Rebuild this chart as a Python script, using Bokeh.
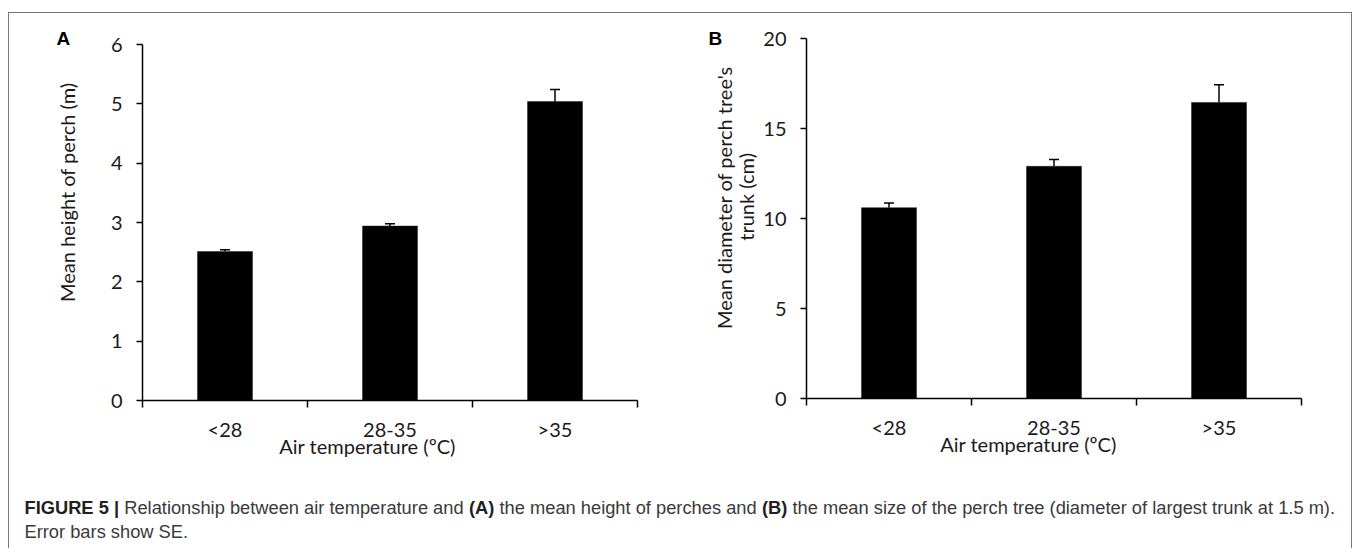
from bokeh.plotting import figure
from bokeh.layouts import column, row
from bokeh.models import (Range1d, FixedTicker, Whisker, TeeHead, ColumnDataSource,
                          LinearAxis, Title)
from bokeh.core.properties import value
from bokeh.embed import file_html
from bokeh.resources import INLINE
import math

# ---------------- data ----------------
categories = ["<28", "28-35", ">35"]
height_mean = [2.51, 2.94, 5.04]
height_se = [0.03, 0.04, 0.20]
diameter_mean = [10.6, 12.9, 16.45]
diameter_se = [0.26, 0.38, 0.98]
height_ticks = [0, 1, 2, 3, 4, 5, 6]
diameter_ticks = [0, 5, 10, 15, 20]

x_title = "Air temperature (ºC)"
height_title = "Mean height of perch (m)"
diameter_title_1 = "Mean diameter of perch tree's"
diameter_title_2 = "trunk (cm)"

AX_FONT = "Lato"
AX_SIZE = "20px"
TXT = "#1a1a1a"


def panel(means, ses, yticks, w, h, bl, br, bt, bb):
    p = figure(width=w, height=h, x_range=Range1d(0, len(categories)),
               y_range=Range1d(yticks[0], yticks[-1]), output_backend="svg",
               toolbar_location=None, min_border_left=bl, min_border_right=br,
               min_border_top=bt, min_border_bottom=bb)
    p.grid.visible = False
    p.outline_line_color = None
    p.background_fill_color = "white"
    p.border_fill_color = "white"
    xs = [i + 0.5 for i in range(len(categories))]
    p.vbar(x=xs, top=means, width=1 / 3, fill_color="black", line_color="#222222", line_width=0.5)
    src = ColumnDataSource(dict(x=xs, lower=means, upper=[m + s for m, s in zip(means, ses)]))
    p.add_layout(Whisker(base="x", lower="lower", upper="upper", source=src,
                         line_color="black", line_width=1.5,
                         upper_head=TeeHead(size=10, line_color="black", line_width=1.5),
                         lower_head=None))
    xa = p.xaxis[0]
    xa.ticker = FixedTicker(ticks=xs, minor_ticks=list(range(len(categories) + 1)))
    xa.major_label_overrides = {x: c for x, c in zip(xs, categories)}
    xa.major_tick_out = 0
    xa.major_tick_in = 0
    xa.minor_tick_out = 7
    xa.minor_tick_in = 0
    xa.minor_tick_line_color = "black"
    xa.minor_tick_line_width = 1.5
    xa.major_label_standoff = 9
    ya = p.yaxis[0]
    ya.ticker = FixedTicker(ticks=yticks, minor_ticks=[])
    ya.major_tick_out = 6
    ya.major_tick_in = 0
    ya.major_tick_line_width = 1.5
    ya.major_tick_line_color = "black"
    ya.minor_tick_line_color = None
    ya.major_label_standoff = 14
    for ax in (xa, ya):
        ax.axis_line_color = "black"
        ax.axis_line_width = 1.5
        ax.major_label_text_font = AX_FONT
        ax.major_label_text_font_size = AX_SIZE
        ax.major_label_text_color = TXT
    return p


def title_axis(p, side, pos, text, standoff, vertical=False):
    ax = LinearAxis(ticker=FixedTicker(ticks=[pos], minor_ticks=[]),
                    major_label_overrides={pos: text},
                    axis_line_color=None, major_tick_line_color=None,
                    minor_tick_line_color=None, major_tick_out=0, major_tick_in=0,
                    major_label_standoff=standoff, major_label_text_font=AX_FONT,
                    major_label_text_font_size=AX_SIZE, major_label_text_color=TXT)
    if vertical:
        ax.major_label_orientation = math.pi / 2
    p.add_layout(ax, side)
    return ax


def letter(p, text, offset, standoff):
    p.add_layout(Title(text=text, align="left", offset=offset, standoff=standoff,
                       vertical_align="bottom", text_font="Liberation Sans",
                       text_font_style="bold", text_font_size="19px", text_color="black"),
                 "above")


# ---------- panel A ---------- (frame: x 142..637, y 44..400)
pA = panel(height_mean, height_se, height_ticks, 662, 457, 133, 34, 31, 70)
title_axis(pA, "below", round((367 - 142) / 165, 3), x_title, -10)
title_axis(pA, "left", round((400 - 82) / 59.33, 3), height_title, 40, vertical=True)
letter(pA, "A", -86, -8)

# ---------- panel B ---------- (frame: x 806..1301, y 38..398)
pB = panel(diameter_mean, diameter_se, diameter_ticks, 680, 457, 135, 50, 25, 72)
title_axis(pB, "below", round((1028 - 806) / 165, 3), x_title, -10)
title_axis(pB, "left", round((398 - 152.5) / 18, 3), diameter_title_2, 14, vertical=True)
title_axis(pB, "left", round((398 - 65.5) / 18, 3), diameter_title_1, -5, vertical=True)
letter(pB, "B", -98, -20)

# ---------- caption ----------
REG = {' ': 278, '(': 333, ')': 333, '.': 278, '|': 260, "'": 191}
for ch, wd in zip("abcdefghijklmnopqrstuvwxyz",
                  [556, 556, 500, 556, 556, 278, 556, 556, 222, 222, 500, 222, 833,
                   556, 556, 556, 556, 333, 500, 278, 556, 500, 722, 500, 500, 500]):
    REG[ch] = wd
for ch in "0123456789":
    REG[ch] = 556
REG.update({'R': 722, 'E': 667, 'S': 667})
BOLD = {' ': 278, '(': 333, ')': 333, '|': 280, 'F': 611, 'I': 278, 'G': 778, 'U': 722,
        'R': 722, 'E': 667, '5': 556, 'A': 722, 'B': 722}

CAP_SIZE = 18.3
segments = [("FIGURE 5 |", True), (" Relationship between air temperature and ", False),
            ("(A)", True), (" the mean height of perches and ", False), ("(B)", True),
            (" the mean size of the perch tree (diameter of largest trunk at 1.5 m).", False)]

W_CAP = 1342
H_CAP = 78
pC = figure(width=W_CAP, height=H_CAP, x_range=Range1d(0, W_CAP), y_range=Range1d(H_CAP, 0),
            output_backend="svg", toolbar_location=None, min_border=0,
            x_axis_type=None, y_axis_type=None)
pC.grid.visible = False
pC.outline_line_color = None

cx = 15.0
bx, bt_, rx, rt = [], [], [], []
for txt, bold in segments:
    table = BOLD if bold else REG
    lead = len(txt) - len(txt.lstrip(" "))
    start = cx + sum(table[c] for c in txt[:lead]) * CAP_SIZE / 1000
    if bold:
        bx.append(start); bt_.append(txt.strip())
    else:
        rx.append(start); rt.append(txt.strip())
    cx += sum(table.get(c, 556) for c in txt) * CAP_SIZE / 1000

line1_y = 37
pC.text(x=bx, y=[line1_y] * len(bx), text=bt_, text_font=value("Liberation Sans"),
        text_font_style="bold", text_font_size=f"{CAP_SIZE}px", text_color="#231f20",
        text_baseline="middle", text_align="left")
pC.text(x=rx + [15], y=[line1_y] * len(rx) + [line1_y + 24], text=rt + ["Error bars show SE."],
        text_font=value("Liberation Sans"), text_font_size=f"{CAP_SIZE}px",
        text_color="#3a3a3a", text_baseline="middle", text_align="left")

layout = column(row(column(pA), column(pB)), pC, margin=(12, 0, 0, 8),
                styles={"border-top": "1px solid #777777", "border-left": "1px solid #777777",
                        "border-right": "1px solid #777777", "background": "white"})

open("out.html", "w").write(file_html(layout, INLINE))
